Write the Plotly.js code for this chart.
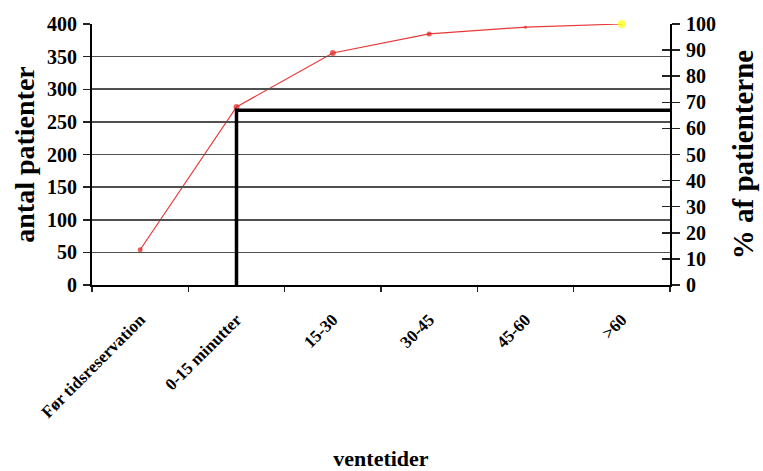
<!DOCTYPE html>
<html>
<head>
<meta charset="utf-8">
<script src="https://cdn.plot.ly/plotly-3.0.1.min.js"></script>
<style>html,body{margin:0;padding:0;background:#fff;}#chart{width:763px;height:471px;}</style>
</head>
<body>
<div id="chart"></div>
<script>
// Data
const categories = ["Før tidsreservation", "0-15 minutter", "15-30", "30-45", "45-60", ">60"];
const cumulativePercent = [13.5, 68.2, 88.9, 96.2, 98.8, 100];
const pointColors = ["#e02020", "#e02020", "#e02020", "#e02020", "#e02020", "#ffff00"];
// reference L-line (patients): vertical at "0-15 minutter", horizontal to the right edge
const refLineX = [1, 1, 5.5];
const refLineY = [0, 268, 268];
const leftTicks = [0, 50, 100, 150, 200, 250, 300, 350, 400];
const rightTicks = [0, 10, 20, 30, 40, 50, 60, 70, 80, 90, 100];

const serif = "Liberation Serif, Times New Roman, serif";
const tickFont = {family: serif, size: 20, color: "#000", weight: 700};

const traces = [
  {
    type: "scatter", mode: "lines",
    x: refLineX, y: refLineY, xaxis: "x2", yaxis: "y",
    line: {color: "#000", width: 3.5},
    hoverinfo: "skip", showlegend: false
  },
  {
    // carries the inside (crossing) ticks of the right axis
    type: "scatter", mode: "none",
    x: categories, y: cumulativePercent, xaxis: "x", yaxis: "y3",
    hoverinfo: "skip", showlegend: false
  },
  {
    type: "scatter", mode: "lines+markers",
    x: categories, y: cumulativePercent, xaxis: "x", yaxis: "y2",
    line: {color: "#e83838", width: 1.2},
    marker: {color: pointColors, size: [5, 6, 6, 5, 3, 8], line: {width: 0}},
    cliponaxis: false, showlegend: false
  }
];

const layout = {
  width: 763, height: 471,
  margin: {l: 92, r: 93, t: 24, b: 186},
  paper_bgcolor: "#fff", plot_bgcolor: "rgba(0,0,0,0)",
  showlegend: false,
  xaxis: {
    type: "category", range: [-0.5, 5.5],
    tickson: "boundaries", ticks: "outside", ticklen: 5, tickwidth: 1.5, tickcolor: "#222",
    showline: true, linecolor: "#000", linewidth: 2,
    showgrid: false, zeroline: false,
    tickangle: -45, ticklabelstandoff: 16,
    tickfont: {family: serif, size: 17, color: "#000", weight: 700},
    title: {text: "ventetider", font: {family: serif, size: 22, color: "#000", weight: 700}, standoff: 36}
  },
  xaxis2: {
    overlaying: "x", range: [-0.5, 5.5], visible: false, anchor: "y"
  },
  yaxis: {
    range: [0, 400], tickvals: leftTicks, ticks: "outside", ticklen: 7, tickwidth: 1.5, tickcolor: "#222",
    showline: true, linecolor: "#000", linewidth: 2,
    showgrid: true, gridcolor: "#505050", gridwidth: 1.6, zeroline: false,
    tickfont: tickFont, ticklabelstandoff: 2,
    title: {text: "antal patienter", font: {family: serif, size: 28, color: "#000", weight: 700}, standoff: 4}
  },
  yaxis2: {
    overlaying: "y", side: "right", anchor: "x",
    range: [0, 100], tickvals: rightTicks, ticks: "outside", ticklen: 8, tickwidth: 1.5, tickcolor: "#222",
    showline: true, linecolor: "#000", linewidth: 2,
    showgrid: false, zeroline: false,
    tickfont: tickFont, ticklabelstandoff: 2,
    title: {text: "% af patienterne", font: {family: serif, size: 29, color: "#000", weight: 700}, standoff: 18}
  },
  yaxis3: {
    overlaying: "y", side: "right", anchor: "x",
    range: [0, 100], tickvals: rightTicks, ticks: "inside", ticklen: 8, tickwidth: 1.5, tickcolor: "#222",
    showticklabels: false, showline: false, showgrid: false, zeroline: false
  }
};

Plotly.newPlot("chart", traces, layout, {displayModeBar: false, staticPlot: true});
</script>
</body>
</html>
